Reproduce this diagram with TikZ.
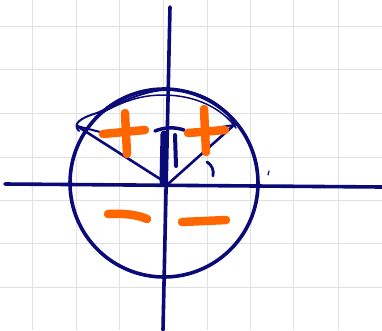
\documentclass[tikz,border=0pt]{standalone}
\begin{document}
\begin{tikzpicture}[x=1pt,y=-1pt,
  gridline/.style={draw=black!12,line width=0.8pt},
  ink/.style={draw={rgb,255:red,10;green,10;blue,120},line cap=round,line join=round},
  marker/.style={draw={rgb,255:red,255;green,102;blue,0},line width=8.5pt,line cap=round}]
\useasboundingbox (0,0) rectangle (382,330);
\fill[white] (0,0) rectangle (382,330);
% grid
\foreach \x in {32,76,119,163,207,250,293,338}{\draw[gridline] (\x,0) -- (\x,330);}
\foreach \y in {26,69,113,157,200,243,287}{\draw[gridline] (0,\y) -- (382,\y);}
% axes
\coordinate (O) at (168,184);
\draw[ink,line width=3.6pt] (170,7) -- (163,330);
\draw[ink,line width=3.6pt] (5,184) -- (382,187);
% circle
\draw[ink,line width=3.6pt] (164,183) ellipse (94 and 94);
% radii and chord pieces
\coordinate (L) at (77,126);
\coordinate (R) at (234,125);
\coordinate (La) at (104,133);
\coordinate (Ra) at (190,132);
\draw[ink,line width=2.6pt] (L) -- (O);
\draw[ink,line width=2.6pt] (O) -- (R);
\draw[ink,line width=2pt] (L) -- (La);
\draw[ink,line width=2pt] (Ra) -- (R);
% overdrawn arcs
\draw[ink,line width=2pt] (79,131) .. controls (72,124) and (80,118) .. (97,113)
  .. controls (120,103) and (140,92) .. (163,90)
  .. controls (200,88) and (225,105) .. (235,126);
\draw[ink,line width=1.5pt] (95,117) .. controls (120,102) and (140,95) .. (163,95)
  .. controls (195,95) and (222,108) .. (236,128);
% pi symbol
\draw[ink,line width=3.5pt] (155,131) .. controls (165,127) and (175,127) .. (184,130);
\draw[ink,line width=7pt] (164,134) -- (163,182);
\draw[ink,line width=4pt] (175,135) -- (176,166);
% small angle mark and tick
\draw[ink,line width=2.8pt] (207,162) .. controls (212,165) and (214,170) .. (213,176);
\draw[ink,line width=1.2pt] (269,171) -- (268,175);
% orange signs
\draw[marker] (103,134) -- (145,130);
\draw[marker] (125,113) -- (127,154);
\draw[marker] (188,133) -- (225,130);
\draw[marker] (204,109) -- (206,152);
\draw[marker] (108,214) .. controls (125,213) and (138,215) .. (147,219);
\draw[marker] (182,222) -- (226,220);
\end{tikzpicture}
\end{document}
